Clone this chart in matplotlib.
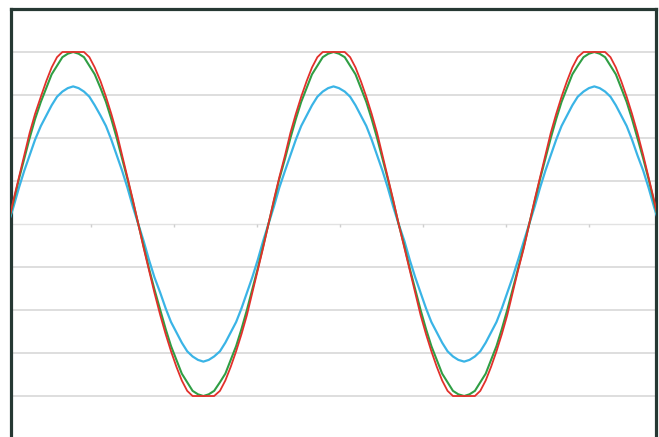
import matplotlib
matplotlib.use('Agg')
import matplotlib.pyplot as plt

# phase positions (radians), 7.5 degree steps over two and a half periods
x = [0.00, 0.13, 0.26, 0.39, 0.52, 0.65, 0.79, 0.92, 1.05, 1.18, 1.31, 1.44,
     1.57, 1.70, 1.83, 1.96, 2.09, 2.23, 2.36, 2.49, 2.62, 2.75, 2.88, 3.01,
     3.14, 3.27, 3.40, 3.53, 3.67, 3.80, 3.93, 4.06, 4.19, 4.32, 4.45, 4.58,
     4.71, 4.84, 4.97, 5.11, 5.24, 5.37, 5.50, 5.63, 5.76, 5.89, 6.02, 6.15,
     6.28, 6.41, 6.54, 6.68, 6.81, 6.94, 7.07, 7.20, 7.33, 7.46, 7.59, 7.72,
     7.85, 7.98, 8.12, 8.25, 8.38, 8.51, 8.64, 8.77, 8.90, 9.03, 9.16, 9.29,
     9.42, 9.56, 9.69, 9.82, 9.95, 10.08, 10.21, 10.34, 10.47, 10.60, 10.73, 10.86,
     11.00, 11.13, 11.26, 11.39, 11.52, 11.65, 11.78, 11.91, 12.04, 12.17, 12.30, 12.44,
     12.57, 12.70, 12.83, 12.96, 13.09, 13.22, 13.35, 13.48, 13.61, 13.74, 13.88, 14.01,
     14.14, 14.27, 14.40, 14.53, 14.66, 14.79, 14.92, 15.05, 15.18, 15.32, 15.45, 15.58,
     15.71]

# green: full sine
green = [0.00, 0.13, 0.26, 0.38, 0.50, 0.61, 0.71, 0.79, 0.87, 0.92, 0.97, 0.99,
         1.00, 0.99, 0.97, 0.92, 0.87, 0.79, 0.71, 0.61, 0.50, 0.38, 0.26, 0.13,
         0.00, -0.13, -0.26, -0.38, -0.50, -0.61, -0.71, -0.79, -0.87, -0.92, -0.97, -0.99,
         -1.00, -0.99, -0.97, -0.92, -0.87, -0.79, -0.71, -0.61, -0.50, -0.38, -0.26, -0.13,
         0.00, 0.13, 0.26, 0.38, 0.50, 0.61, 0.71, 0.79, 0.87, 0.92, 0.97, 0.99,
         1.00, 0.99, 0.97, 0.92, 0.87, 0.79, 0.71, 0.61, 0.50, 0.38, 0.26, 0.13,
         0.00, -0.13, -0.26, -0.38, -0.50, -0.61, -0.71, -0.79, -0.87, -0.92, -0.97, -0.99,
         -1.00, -0.99, -0.97, -0.92, -0.87, -0.79, -0.71, -0.61, -0.50, -0.38, -0.26, -0.13,
         0.00, 0.13, 0.26, 0.38, 0.50, 0.61, 0.71, 0.79, 0.87, 0.92, 0.97, 0.99,
         1.00, 0.99, 0.97, 0.92, 0.87, 0.79, 0.71, 0.61, 0.50, 0.38, 0.26, 0.13,
         0.00]

# blue: reduced amplitude
blue = [0.00, 0.10, 0.21, 0.31, 0.40, 0.49, 0.57, 0.63, 0.69, 0.74, 0.77, 0.79,
        0.80, 0.79, 0.77, 0.74, 0.69, 0.63, 0.57, 0.49, 0.40, 0.31, 0.21, 0.10,
        0.00, -0.10, -0.21, -0.31, -0.40, -0.49, -0.57, -0.63, -0.69, -0.74, -0.77, -0.79,
        -0.80, -0.79, -0.77, -0.74, -0.69, -0.63, -0.57, -0.49, -0.40, -0.31, -0.21, -0.10,
        0.00, 0.10, 0.21, 0.31, 0.40, 0.49, 0.57, 0.63, 0.69, 0.74, 0.77, 0.79,
        0.80, 0.79, 0.77, 0.74, 0.69, 0.63, 0.57, 0.49, 0.40, 0.31, 0.21, 0.10,
        0.00, -0.10, -0.21, -0.31, -0.40, -0.49, -0.57, -0.63, -0.69, -0.74, -0.77, -0.79,
        -0.80, -0.79, -0.77, -0.74, -0.69, -0.63, -0.57, -0.49, -0.40, -0.31, -0.21, -0.10,
        0.00, 0.10, 0.21, 0.31, 0.40, 0.49, 0.57, 0.63, 0.69, 0.74, 0.77, 0.79,
        0.80, 0.79, 0.77, 0.74, 0.69, 0.63, 0.57, 0.49, 0.40, 0.31, 0.21, 0.10,
        0.00]

# red: clipped at +/-1
red = [0.00, 0.14, 0.27, 0.40, 0.53, 0.64, 0.74, 0.83, 0.91, 0.97, 1.00, 1.00,
       1.00, 1.00, 1.00, 0.97, 0.91, 0.83, 0.74, 0.64, 0.53, 0.40, 0.27, 0.14,
       0.00, -0.14, -0.27, -0.40, -0.53, -0.64, -0.74, -0.83, -0.91, -0.97, -1.00, -1.00,
       -1.00, -1.00, -1.00, -0.97, -0.91, -0.83, -0.74, -0.64, -0.53, -0.40, -0.27, -0.14,
       0.00, 0.14, 0.27, 0.40, 0.53, 0.64, 0.74, 0.83, 0.91, 0.97, 1.00, 1.00,
       1.00, 1.00, 1.00, 0.97, 0.91, 0.83, 0.74, 0.64, 0.53, 0.40, 0.27, 0.14,
       0.00, -0.14, -0.27, -0.40, -0.53, -0.64, -0.74, -0.83, -0.91, -0.97, -1.00, -1.00,
       -1.00, -1.00, -1.00, -0.97, -0.91, -0.83, -0.74, -0.64, -0.53, -0.40, -0.27, -0.14,
       0.00, 0.14, 0.27, 0.40, 0.53, 0.64, 0.74, 0.83, 0.91, 0.97, 1.00, 1.00,
       1.00, 1.00, 1.00, 0.97, 0.91, 0.83, 0.74, 0.64, 0.53, 0.40, 0.27, 0.14,
       0.00]

grid_levels = [-1.0, -0.75, -0.5, -0.25, 0.25, 0.5, 0.75, 1.0]
x_ticks = [2, 4, 6, 8, 10, 12, 14]

fig = plt.figure(figsize=(6.59, 4.37), dpi=100)
# plot area runs off the bottom of the picture, as in the reference
ax = fig.add_axes([0.0167, -0.0046, 0.9795, 0.984])

for g in grid_levels:
    ax.axhline(g, color='#d4d4d4', linewidth=1.1, zorder=1)

ax.plot(x, blue, color='#3ab4e6', linewidth=1.6, zorder=3)
ax.plot(x, green, color='#2f9e44', linewidth=1.5, zorder=4)
ax.plot(x, red, color='#e2302b', linewidth=1.3, zorder=5)

ax.set_xlim(0.07, 15.64)
ax.set_ylim(-1.25, 1.25)

# category axis crossing at zero
ax.spines['bottom'].set_position(('data', 0))
ax.spines['bottom'].set_color('#e2e2e2')
ax.spines['bottom'].set_linewidth(1.0)
ax.spines['bottom'].set_zorder(1)
for side in ['top', 'left', 'right']:
    ax.spines[side].set_color('#263833')
    ax.spines[side].set_linewidth(2.3)

ax.set_xticks(x_ticks)
ax.set_yticks([])
ax.tick_params(axis='x', direction='out', length=2.5, width=1.0,
               color='#cfcfcf', labelbottom=False)

fig.savefig('out.png', dpi=100)
